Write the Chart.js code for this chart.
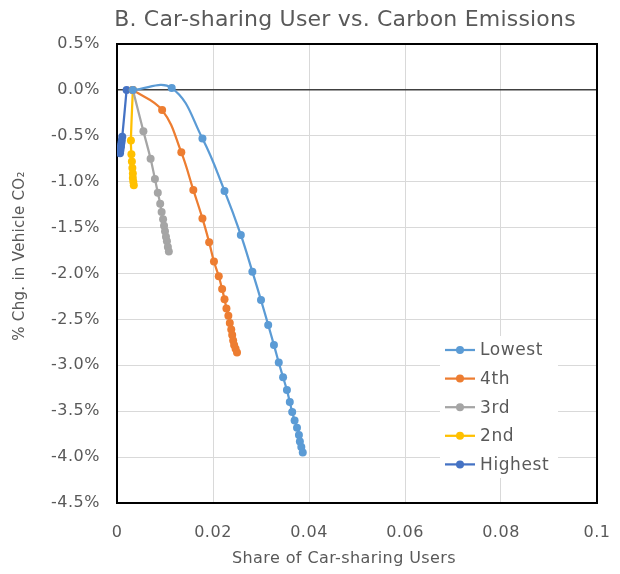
<!DOCTYPE html>
<html>
<head>
<meta charset="utf-8">
<script src="https://cdn.jsdelivr.net/npm/chart.js@4/dist/chart.umd.min.js"></script>
<style>
html,body{margin:0;padding:0;background:#fff;}
#wrap{width:620px;height:574px;position:relative;}
</style>
</head>
<body>
<div id="wrap"><canvas id="c" width="620" height="574"></canvas></div>
<script>
// ---- Data (x = share of car-sharing users, y = % change in vehicle CO2) ----
const seriesNames = ["Lowest", "4th", "3rd", "2nd", "Highest"];
const seriesColors = ["#5B9BD5", "#ED7D31", "#A5A5A5", "#FFC000", "#4472C4"];

const lowestX = [0.0033, 0.0114, 0.0178, 0.0224, 0.0258, 0.0282, 0.0300, 0.0315, 0.0327, 0.0337, 0.0346, 0.0354, 0.0360, 0.0365, 0.0370, 0.0375, 0.0379, 0.0381, 0.0384, 0.0387];
const lowestY = [0.00, 0.02, -0.53, -1.10, -1.58, -1.98, -2.29, -2.56, -2.78, -2.97, -3.13, -3.27, -3.40, -3.51, -3.60, -3.68, -3.76, -3.83, -3.89, -3.95];

const fourthX = [0.0033, 0.0094, 0.0134, 0.0159, 0.0178, 0.0192, 0.0202, 0.0212, 0.0219, 0.0224, 0.0228, 0.0232, 0.0235, 0.0238, 0.0240, 0.0242, 0.0244, 0.0247, 0.0250];
const fourthY = [0.00, -0.22, -0.68, -1.09, -1.40, -1.66, -1.87, -2.03, -2.17, -2.28, -2.38, -2.46, -2.54, -2.61, -2.67, -2.73, -2.78, -2.82, -2.86];

const thirdX = [0.0033, 0.0055, 0.0070, 0.0079, 0.0085, 0.0090, 0.0093, 0.0096, 0.0098, 0.0100, 0.0102, 0.0104, 0.0106, 0.0108];
const thirdY = [0.00, -0.45, -0.75, -0.97, -1.12, -1.24, -1.33, -1.41, -1.48, -1.54, -1.60, -1.65, -1.71, -1.76];

const secondX = [0.0033, 0.0029, 0.0030, 0.0031, 0.0032, 0.0033, 0.0033, 0.0034, 0.0035];
const secondY = [0.00, -0.55, -0.70, -0.78, -0.85, -0.91, -0.96, -1.00, -1.04];

const highestX = [0.0020, 0.0011, 0.0010, 0.0009, 0.00083, 0.00077, 0.0007, 0.00063];
const highestY = [0.00, -0.51, -0.55, -0.58, -0.61, -0.63, -0.66, -0.69];

const xTicks = [0, 0.02, 0.04, 0.06, 0.08, 0.1];
const yTicks = [0.5, 0.0, -0.5, -1.0, -1.5, -2.0, -2.5, -3.0, -3.5, -4.0, -4.5];

const titleText = "B. Car-sharing User vs. Carbon Emissions";
const xTitle = "Share of Car-sharing Users";
const yTitle = "% Chg. in Vehicle CO\u2082";

// ---- Build datasets ----
const xs = [lowestX, fourthX, thirdX, secondX, highestX];
const ys = [lowestY, fourthY, thirdY, secondY, highestY];
const datasets = seriesNames.map((name, i) => ({
  label: name,
  data: xs[i].map((x, j) => ({x: x, y: ys[i][j]})),
  borderColor: seriesColors[i],
  backgroundColor: seriesColors[i],
  pointBackgroundColor: seriesColors[i],
  pointBorderColor: seriesColors[i],
  pointRadius: 4,
  pointBorderWidth: 0,
  borderWidth: 2.25,
  showLine: true,
  tension: 0.4,
  order: i
}));

const FONT = "'DejaVu Sans', sans-serif";
const TXT = "#595959";

const spacingPlugin = {
  id: 'spacing',
  beforeInit(chart) { chart.ctx.letterSpacing = '0.5px'; },
  beforeUpdate(chart) { chart.ctx.letterSpacing = '0.5px'; }
};

const plotBorder = {
  id: 'plotBorder',
  beforeDatasetsDraw(chart) {
    const {ctx, chartArea: a} = chart;
    ctx.save();
    ctx.strokeStyle = '#000';
    ctx.lineWidth = 2;
    ctx.strokeRect(a.left, a.top, a.right - a.left, a.bottom - a.top);
    ctx.restore();
  }
};

const textPlugin = {
  id: 'textPlugin',
  afterDraw(chart) {
    const ctx = chart.ctx;
    ctx.save();
    ctx.fillStyle = TXT;
    ctx.textAlign = 'center';
    ctx.textBaseline = 'middle';
    ctx.letterSpacing = '0.2px';
    ctx.font = "22px " + FONT;
    ctx.fillText(titleText, 345, 20);
    ctx.letterSpacing = '0.4px';
    ctx.font = "16px " + FONT;
    ctx.fillText(xTitle, 344, 559);
    ctx.translate(20, 256);
    ctx.rotate(-Math.PI / 2);
    ctx.letterSpacing = '0.3px';
    ctx.font = "15px " + FONT;
    ctx.fillText(yTitle, 0, 0);
    ctx.restore();
  }
};

const legendPlugin = {
  id: 'boxLegend',
  afterDraw(chart) {
    const ctx = chart.ctx;
    ctx.save();
    ctx.fillStyle = '#fff';
    ctx.fillRect(440, 336, 118, 142);
    const x0 = 445, y0 = 350, dy = 28.6;
    chart.data.datasets.forEach((ds, i) => {
      const y = y0 + i * dy;
      ctx.strokeStyle = ds.borderColor;
      ctx.lineWidth = 2.25;
      ctx.beginPath();
      ctx.moveTo(x0, y);
      ctx.lineTo(x0 + 30, y);
      ctx.stroke();
      ctx.fillStyle = ds.borderColor;
      ctx.beginPath();
      ctx.arc(x0 + 15, y, 4, 0, Math.PI * 2);
      ctx.fill();
      ctx.fillStyle = TXT;
      ctx.letterSpacing = '0.6px';
      ctx.font = "17px " + FONT;
      ctx.textAlign = 'left';
      ctx.textBaseline = 'middle';
      ctx.fillText(ds.label, x0 + 35, y + 1);
    });
    ctx.restore();
  }
};

new Chart(document.getElementById('c'), {
  type: 'scatter',
  data: { datasets },
  options: {
    responsive: false,
    animation: false,
    layout: { padding: { left: 0, right: 23, top: 44, bottom: 0 } },
    plugins: { legend: { display: false }, title: { display: false }, tooltip: { enabled: false } },
    scales: {
      x: {
        type: 'linear',
        min: 0, max: 0.1,
        afterBuildTicks(scale) { scale.ticks = xTicks.map(v => ({value: v})); },
        afterFit(scale) { scale.height = 71; },
        ticks: {
          color: TXT, font: { family: FONT, size: 16 }, padding: 0,
          callback: v => String(Number(v.toFixed(2)))
        },
        grid: { color: '#D9D9D9', lineWidth: 1, drawTicks: true, tickLength: 20, tickColor: 'rgba(0,0,0,0)' },
        border: { display: false },
        title: { display: false }
      },
      y: {
        type: 'linear',
        min: -4.5, max: 0.5,
        afterBuildTicks(scale) { scale.ticks = yTicks.map(v => ({value: v})); },
        afterFit(scale) { scale.width = 117; },
        ticks: {
          color: TXT, font: { family: FONT, size: 16 }, padding: 17,
          callback: v => v.toFixed(1) + '%'
        },
        grid: {
          drawTicks: false,
          color: ctx => (ctx.tick && Math.abs(ctx.tick.value) < 1e-9) ? '#404040' : '#D9D9D9',
          lineWidth: ctx => (ctx.tick && Math.abs(ctx.tick.value) < 1e-9) ? 1.5 : 1
        },
        border: { display: false },
        title: { display: false }
      }
    }
  },
  plugins: [spacingPlugin, plotBorder, legendPlugin, textPlugin]
});
</script>
</body>
</html>
